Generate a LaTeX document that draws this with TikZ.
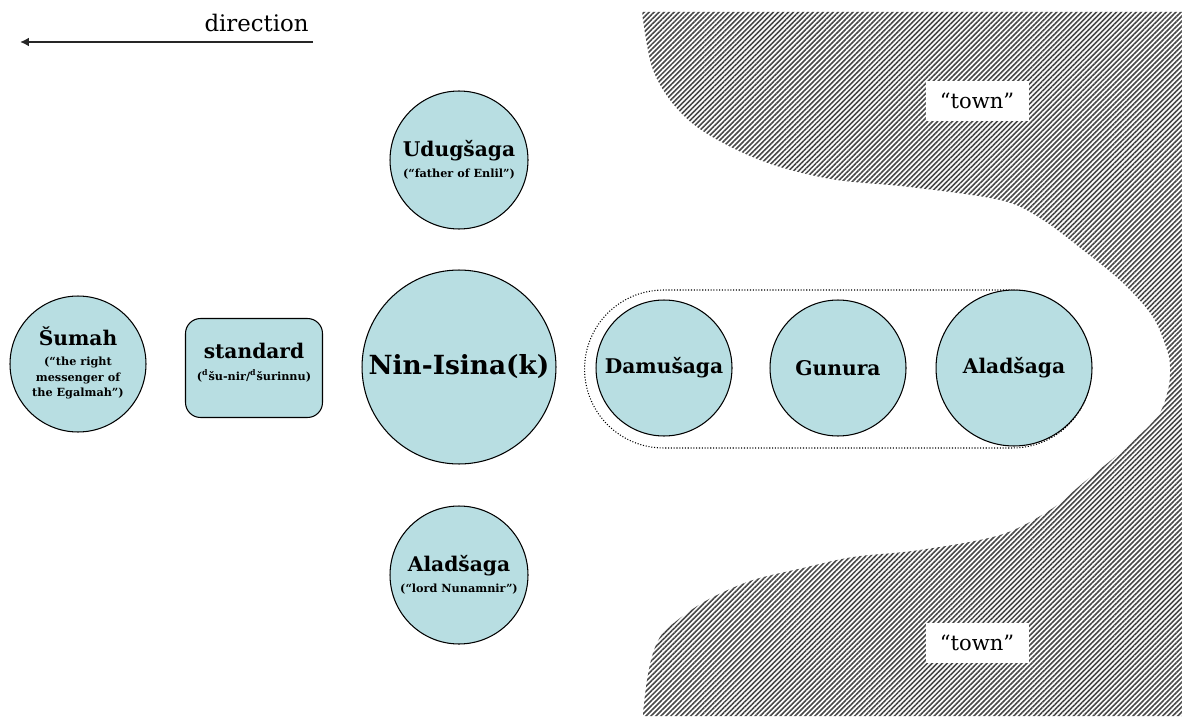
\documentclass[tikz,border=0pt]{standalone}
\usepackage{fontspec}
\setmainfont{DejaVu Serif}
\usetikzlibrary{arrows.meta, positioning, patterns.meta}
\definecolor{godblue}{RGB}{184,222,226}
\newcommand{\gloss}[1]{{\fontsize{6.4}{9}\selectfont #1}}

\begin{document}
\begin{tikzpicture}[
      x=0.02cm, y=-0.02cm,
      god/.style={circle, draw, line width=0.6pt, fill=godblue, align=center, inner sep=0pt, font=\bfseries\fontsize{11.5}{13}\selectfont},
      emblem/.style={rectangle, draw, line width=0.6pt, fill=godblue, rounded corners=0.3cm, align=center, inner sep=0pt, minimum width=2.74cm, minimum height=1.98cm, font=\bfseries\fontsize{11.5}{13}\selectfont},
      troupe/.style={rectangle, draw, densely dotted, line width=0.6pt, rounded corners=1.58cm, minimum width=10.14cm, minimum height=3.16cm},
      townlabel/.style={rectangle, fill=white, minimum width=2.06cm, minimum height=0.8cm, font=\fontsize{12}{14}\selectfont},
      town/.style={pattern={Lines[angle=45, distance=2pt, line width=0.9pt]}, pattern color=black!72},
      arrow/.style={-{Latex[length=5pt, width=5pt]}, line width=1.1pt, black!85}
    ]
    \useasboundingbox (0,0) rectangle (1182,716);

    % the town on both sides of the road
    \path[town] (643,12) -- (1182,12) -- (1182,716) -- (643,716)
      -- plot[smooth, tension=0.55] coordinates {(643,713) (647,680) (653,653) (663,633) (687,613) (713,597) (753,580) (803,568) (853,557) (920,550) (1000,535) (1050,510) (1083,483) (1123,450) (1157,417) (1168,390) (1170,367) (1167,350) (1153,317) (1123,283) (1083,250) (1040,218) (1000,200) (910,187) (837,180) (780,167) (737,150) (697,127) (670,100) (652,67) (643,20) (643,12)}
      -- cycle;
    \node[townlabel] (towntop) at (977,101) {“town”};
    \node[townlabel] (townbot) at (977,643) {“town”};

    % direction of the procession
    \coordinate (dirstart) at (313,42);
    \coordinate (dirend) at (20,42);
    \draw[arrow] (dirstart) -- (dirend);
    \node[anchor=base east, inner sep=0pt, font=\fontsize{13}{15}\selectfont] (dirlabel) at (309,32) {direction};

    \node[troupe] (procession) at (838,369) {};

    \node[god, minimum size=2.72cm] (sumah) at (78,364) {Šumah\\[4pt]\gloss{\begin{tabular}{@{}c@{}}(“the right\\messenger of\\the Egalmah”)\end{tabular}}};
    \node[emblem] (standard) at (254,368) {standard\\[-1pt]\gloss{(\textsuperscript{d}šu-nir/\textsuperscript{d}šurinnu)}\\[-6pt]\mbox{}};
    \node[god, minimum size=3.88cm, font=\bfseries\fontsize{15}{18}\selectfont] (ninisina) at (459,367) {Nin-Isina(k)};
    \node[god, minimum size=2.76cm] (udugsaga) at (459,160) {Udugšaga\\[-1pt]\gloss{(“father of Enlil”)}};
    \node[god, minimum size=2.76cm] (aladsagalow) at (459,575) {Aladšaga\\[-1pt]\gloss{(“lord Nunamnir”)}};

    \node[god, minimum size=2.72cm] (damusaga) at (664,368) {Damušaga};
    \node[god, minimum size=2.72cm] (gunura) at (838,368) {Gunura};
    \node[god, minimum size=3.12cm] (aladsaga) at (1014,368) {Aladšaga};
  \end{tikzpicture}
\end{document}
